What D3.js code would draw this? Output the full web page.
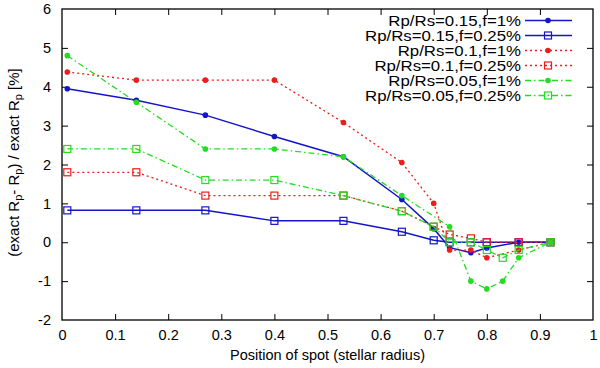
<!DOCTYPE html>
<html><head><meta charset="utf-8">
<script src="https://cdn.jsdelivr.net/npm/d3@7"></script>
<style>body{margin:0;background:#fff}svg{display:block;font-family:"Liberation Sans",Arial,sans-serif}</style>
</head><body>
<script>
const xTicks = [0,0.1,0.2,0.3,0.4,0.5,0.6,0.7,0.8,0.9,1];
const xTickLabels = ["0","0.1","0.2","0.3","0.4","0.5","0.6","0.7","0.8","0.9","1"];
const yTicks = [-2,-1,0,1,2,3,4,5,6];
const yTickLabels = ["-2","-1","0","1","2","3","4","5","6"];

const seriesNames = ["Rp/Rs=0.15,f=1%","Rp/Rs=0.15,f=0.25%","Rp/Rs=0.1,f=1%","Rp/Rs=0.1,f=0.25%","Rp/Rs=0.05,f=1%","Rp/Rs=0.05,f=0.25%"];

const xA = [0.01,0.14,0.27,0.40,0.53,0.64,0.70,0.73,0.77,0.80,0.86,0.92];
const xG1 = [0.01,0.14,0.27,0.40,0.53,0.64,0.73,0.77,0.80,0.83,0.86,0.92];
const xG2 = [0.01,0.14,0.27,0.40,0.53,0.64,0.70,0.73,0.77,0.80,0.83,0.86,0.92];

const blue1 = [3.95,3.65,3.27,2.72,2.2,1.1,0.35,-0.14,-0.27,-0.15,0,0];
const blue025 = [0.82,0.82,0.82,0.55,0.55,0.27,0.05,0,0,0,0,0];
const red1 = [4.38,4.17,4.17,4.17,3.08,2.05,1.0,-0.2,-0.2,-0.4,-0.2,0];
const red025 = [1.8,1.8,1.2,1.2,1.2,0.8,0.4,0.2,0.1,0,0,0];
const green1 = [4.8,3.6,2.4,2.4,2.2,1.2,0.4,-1.0,-1.2,-1.0,-0.4,0];
const green025 = [2.4,2.4,1.6,1.6,1.2,0.8,0.4,0,0,-0.2,-0.4,-0.2,0];

const BLUE="#1515c8", RED="#ee1c1c", GREEN="#22dd22";
const series = [
  {name:seriesNames[0], xs:xA, ys:blue1, color:BLUE, dash:null, marker:"circle"},
  {name:seriesNames[1], xs:xA, ys:blue025, color:BLUE, dash:null, marker:"square"},
  {name:seriesNames[2], xs:xA, ys:red1, color:RED, dash:"2,3", marker:"circle"},
  {name:seriesNames[3], xs:xA, ys:red025, color:RED, dash:"2,3", marker:"square"},
  {name:seriesNames[4], xs:xG1, ys:green1, color:GREEN, dash:"6,3,1.5,3", marker:"circle"},
  {name:seriesNames[5], xs:xG2, ys:green025, color:GREEN, dash:"6,3,1.5,3", marker:"square"}
];

const W=600,H=368, L=62, R=593, T=9, B=320;
const svg = d3.select("body").append("svg").attr("width",W).attr("height",H);
const x = d3.scaleLinear().domain([0,1]).range([L,R]);
const y = d3.scaleLinear().domain([-2,6]).range([B,T]);
const tl = 6;

const gx = svg.append("g").attr("transform",`translate(0,${B})`)
  .call(d3.axisBottom(x).tickValues(xTicks).tickSize(-tl).tickPadding(10).tickFormat((d,i)=>xTickLabels[i]));
const gxt = svg.append("g").attr("transform",`translate(0,${T})`)
  .call(d3.axisTop(x).tickValues(xTicks).tickSize(-tl).tickFormat(""));
const gy = svg.append("g").attr("transform",`translate(${L},0)`)
  .call(d3.axisLeft(y).tickValues(yTicks).tickSize(-tl).tickPadding(11).tickFormat((d,i)=>yTickLabels[i]));
const gyr = svg.append("g").attr("transform",`translate(${R},0)`)
  .call(d3.axisRight(y).tickValues(yTicks).tickSize(-tl).tickFormat(""));
[gx,gxt,gy,gyr].forEach(g=>{
  g.select(".domain").remove();
  g.selectAll(".tick line").attr("stroke","#000").attr("stroke-width",1);
  g.selectAll("text").attr("fill","#000").style("font-size","14.5px").style("font-family","'Liberation Sans',Arial,sans-serif");
});
gx.selectAll(".tick line").filter(d=>d===0||d===1).remove();
gxt.selectAll(".tick line").filter(d=>d===0||d===1).remove();
gy.selectAll(".tick line").filter(d=>d===-2||d===6).remove();
gyr.selectAll(".tick line").filter(d=>d===-2||d===6).remove();

svg.append("rect").attr("x",L).attr("y",T).attr("width",R-L).attr("height",B-T)
  .attr("fill","none").attr("stroke","#000").attr("stroke-width",1.3);

svg.append("text").attr("x",(L+R)/2).attr("y",360).attr("text-anchor","middle")
  .style("font-size","14.5px").text("Position of spot (stellar radius)");
const yt = svg.append("text").attr("transform",`translate(19,${(T+B)/2 - 2}) rotate(-90)`)
  .attr("text-anchor","middle").style("font-size","15px");
yt.append("tspan").text("(exact R");
yt.append("tspan").attr("baseline-shift","-25%").style("font-size","11px").text("p");
yt.append("tspan").text("- R");
yt.append("tspan").attr("baseline-shift","-25%").style("font-size","11px").text("p");
yt.append("tspan").text(") / exact R");
yt.append("tspan").attr("baseline-shift","-25%").style("font-size","11px").text("p");
yt.append("tspan").text(" [%]");

const line = d3.line().x(d=>x(d[0])).y(d=>y(d[1]));
function drawMarker(g, type, cx, cy, color){
  if(type==="circle"){
    g.append("circle").attr("cx",cx).attr("cy",cy).attr("r",2.8).attr("fill",color);
  } else {
    g.append("rect").attr("x",cx-3.5).attr("y",cy-3.5).attr("width",7).attr("height",7)
      .attr("fill","none").attr("stroke",color).attr("stroke-width",1.2);
  }
}
series.forEach(s=>{
  const pts = s.xs.map((xv,i)=>[xv,s.ys[i]]);
  const g = svg.append("g");
  g.append("path").attr("d",line(pts)).attr("fill","none").attr("stroke",s.color)
    .attr("stroke-width",s.dash?1.3:1.5).attr("stroke-dasharray",s.dash);
  pts.forEach(p=>drawMarker(g,s.marker,x(p[0]),y(p[1]),s.color));
});

const lg = svg.append("g");
series.forEach((s,i)=>{
  const cy = 20.5 + i*15;
  const t = lg.append("text").attr("x",521).attr("y",cy+5).attr("text-anchor","end")
    .style("font-size","14px").text(s.name);
  const w = t.node().getComputedTextLength();
  t.attr("textLength", w*1.2).attr("lengthAdjust","spacingAndGlyphs");
  lg.append("line").attr("x1",525).attr("x2",572).attr("y1",cy).attr("y2",cy)
    .attr("stroke",s.color).attr("stroke-width",s.dash?1.3:1.5).attr("stroke-dasharray",s.dash);
  drawMarker(lg,s.marker,548,cy,s.color);
});
</script>
</body></html>
